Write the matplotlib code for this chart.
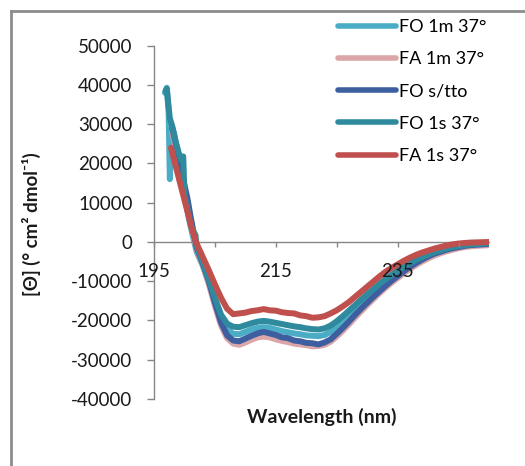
import numpy as np
import matplotlib.pyplot as plt
from matplotlib.lines import Line2D
from matplotlib.ticker import FixedLocator, MultipleLocator

plt.rcParams['font.family'] = ['Lato', 'DejaVu Sans']
plt.rcParams['axes.unicode_minus'] = False

# common 1 nm grid from 202 to 250 nm, each series has its own start before that
grid = list(range(202, 251))

# FO 1m 37°
wl_fo1m = [196.8, 197.1, 197.4, 197.6, 197.9, 198.3, 198.8, 199.3, 199.8, 200.3, 200.8, 201.3] + grid
th_fo1m = [38000, 39300, 33000, 16000, 29500, 27500, 23500, 19000, 14000, 9500, 5500, 2000,
           -2500, -6000, -10300, -15000, -19500, -22300, -23400, -23500, -22900, -22300,
           -21900, -21700, -21900, -22300, -22700, -23000, -23300, -23500, -23800, -23900,
           -24000, -23700, -22900, -21700, -20300, -18800, -17300, -15800, -14300, -12900,
           -11500, -10200, -9000, -7900, -6800, -5800, -4900, -4100, -3400, -2800,
           -2300, -1800, -1400, -1100, -900, -700, -600, -500, -400]

# FA 1m 37°
wl_fa1m = [198.0, 199.0, 200.0, 201.0] + grid
th_fa1m = [28000, 21000, 14000, 6000,
           -2000, -6000, -10800, -16300, -21300, -24500, -25900, -26200, -25600, -24900,
           -24300, -24100, -24300, -24800, -25200, -25500, -25900, -26100, -26300, -26600,
           -26500, -26200, -25400, -24100, -22600, -21000, -19300, -17700, -16100, -14600,
           -13100, -11700, -10400, -9200, -8000, -6900, -5900, -5000, -4200, -3500,
           -2900, -2400, -2000, -1600, -1300, -1100, -1000, -900, -800]

# FO s/tto
wl_fos = [198.0, 198.5, 199.0, 199.5, 200.0, 200.5, 201.0, 201.5] + grid
th_fos = [29000, 25500, 22500, 19000, 14500, 11000, 6500, 2500,
          -1500, -5500, -10000, -15500, -20500, -23800, -25100, -25300, -24600, -23900,
          -23300, -22900, -23300, -23700, -24300, -24500, -25100, -25300, -25700, -25800,
          -26100, -25600, -24800, -23400, -21900, -20300, -18600, -17000, -15500, -14000,
          -12600, -11200, -9900, -8700, -7500, -6400, -5400, -4500, -3700, -3000,
          -2500, -2000, -1600, -1300, -1000, -800, -700, -600, -500]

# FO 1s 37°
wl_fo1s = [196.9, 197.1, 197.3, 197.6, 198.0, 198.5, 199.0, 199.4, 199.8, 200.0, 200.5, 201.0, 201.5, 201.8] + grid
th_fo1s = [38500, 39000, 36000, 31500, 29500, 26000, 23000, 21000, 21800, 12000, 8500, 4500, 2500, 1800,
           -1000, -5200, -9500, -14200, -18500, -20800, -21600, -21700, -21200, -20700,
           -20300, -20100, -20300, -20600, -20900, -21200, -21500, -21700, -22000, -22200,
           -22300, -22000, -21300, -20200, -18900, -17500, -16100, -14700, -13300, -12000,
           -10700, -9500, -8400, -7300, -6300, -5400, -4600, -3900, -3200, -2600,
           -2100, -1700, -1300, -1000, -800, -600, -500, -400, -300]

# FA 1s 37°
wl_fa1s = [197.8, 198.2, 198.7, 199.2, 199.7, 200.2, 200.7, 201.2, 201.7] + grid
th_fa1s = [24000, 21500, 18500, 15500, 12500, 9500, 6500, 3500, 1000,
           -400, -3800, -7200, -10800, -14200, -17000, -18400, -18200, -18000, -17600,
           -17400, -17100, -17400, -17500, -17900, -18100, -18200, -18700, -18900, -19300,
           -19200, -18900, -18200, -17400, -16400, -15300, -14000, -12700, -11400, -10100,
           -8800, -7600, -6600, -5700, -4800, -4000, -3300, -2700, -2200, -1700,
           -1300, -900, -600, -400, -250, -150, -100, -50, 0]

series = [
    ('FO 1m 37°', wl_fo1m, th_fo1m, '#4bacc6'),
    ('FA 1m 37°', wl_fa1m, th_fa1m, '#dba6a8'),
    ('FO s/tto', wl_fos, th_fos, '#3d5f9f'),
    ('FO 1s 37°', wl_fo1s, th_fo1s, '#2f8a9e'),
    ('FA 1s 37°', wl_fa1s, th_fa1s, '#c0504d'),
]

W, H = 525, 466
fig = plt.figure(figsize=(W / 100, H / 100), dpi=100)
ax = fig.add_axes([154 / W, 1 - 399 / H, (489 - 154) / W, (399 - 45.7) / H])

for name, wl, th, col in series:
    ax.plot(wl, th, color=col, lw=4.3, solid_capstyle='round', solid_joinstyle='round',
            label=name, zorder=2)

ax.set_xlim(195, 250)
ax.set_ylim(-40000, 50000)

grey = '#868686'
for s in ['top', 'right']:
    ax.spines[s].set_visible(False)
ax.spines['bottom'].set_position(('data', 0))
for s in ['bottom', 'left']:
    ax.spines[s].set_color(grey)
    ax.spines[s].set_linewidth(1.0)
    ax.spines[s].set_zorder(1)
# tick labels sit above the curves
ax.xaxis.set_zorder(3)

ax.xaxis.set_major_locator(FixedLocator([195, 215, 235]))
ax.xaxis.set_minor_locator(FixedLocator([205, 225, 245]))
ax.yaxis.set_major_locator(MultipleLocator(10000))
ax.yaxis.set_major_formatter(lambda v, p: '%d' % v)
ax.tick_params(axis='x', which='both', direction='out', length=3.6, width=1, color=grey,
               pad=11.5, labelsize=13.5, labelcolor='#1a1a1a')
ax.tick_params(axis='y', direction='out', length=5, width=1, color=grey,
               pad=10.5, labelsize=13.5, labelcolor='#1a1a1a')

fig.text(31.7 / W, 1 - 224 / H, '[Θ] (° cm² dmol⁻¹)', rotation=90, ha='center', va='center',
         fontsize=13.5, fontweight='bold', color='#1a1a1a')
fig.text(322 / W, 1 - 417 / H, 'Wavelength (nm)', ha='center', va='center',
         fontsize=14, fontweight='bold', color='#1a1a1a')

handles = [Line2D([], [], color=c, lw=4, solid_capstyle='round') for _, _, _, c in series]
labels = [n for n, _, _, _ in series]
ax.legend(handles, labels, loc='upper left', bbox_to_anchor=(338 / W, 1 - 19 / H),
          bbox_transform=fig.transFigure, frameon=False, borderpad=0, borderaxespad=0,
          handlelength=3.2, handletextpad=0.2, labelspacing=0.9, fontsize=13)

# outer frame lines
fig.add_artist(Line2D([11 / W, 11 / W], [0, 1 - 11 / H], transform=fig.transFigure, color='#8c8c8c', lw=2))
fig.add_artist(Line2D([11 / W, 1], [1 - 11 / H, 1 - 11 / H], transform=fig.transFigure, color='#8c8c8c', lw=2))

fig.savefig('out.png', dpi=100)
